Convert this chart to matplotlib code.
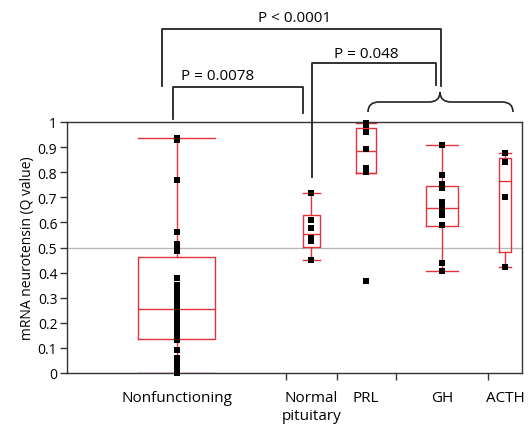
import numpy as np
import matplotlib
matplotlib.use("Agg")
import matplotlib.pyplot as plt
from matplotlib.path import Path
from matplotlib.patches import PathPatch

plt.rcParams['font.family'] = ['Open Sans', 'DejaVu Sans']

# ---------------- data ----------------
categories = ["Nonfunctioning", "Normal\npituitary", "PRL", "GH", "ACTH"]
group_n = [26, 6, 7, 11, 4]

pts_nonfunc = [0.935, 0.93, 0.77, 0.56, 0.515, 0.50, 0.485, 0.38, 0.35, 0.33,
               0.31, 0.29, 0.27, 0.25, 0.23, 0.21, 0.19, 0.17, 0.15, 0.13,
               0.09, 0.06, 0.04, 0.02, 0.0, 0.0]
pts_normal = [0.716, 0.61, 0.578, 0.537, 0.527, 0.45]
pts_prl = [0.996, 0.988, 0.96, 0.891, 0.815, 0.80, 0.365]
pts_gh = [0.908, 0.789, 0.752, 0.736, 0.682, 0.665, 0.65, 0.63, 0.591, 0.437, 0.405]
pts_acth = [0.875, 0.839, 0.70, 0.424]
points = [pts_nonfunc, pts_normal, pts_prl, pts_gh, pts_acth]

# box stats: whislo, q1, median, q3, whishi
box_whislo = [0.0, 0.45, 0.798, 0.405, 0.424]
box_q1 = [0.134, 0.502, 0.798, 0.586, 0.481]
box_med = [0.254, 0.554, 0.884, 0.657, 0.764]
box_q3 = [0.463, 0.629, 0.976, 0.745, 0.855]
box_whishi = [0.936, 0.716, 0.996, 0.908, 0.875]

yticks = [0, 0.1, 0.2, 0.3, 0.4, 0.5, 0.6, 0.7, 0.8, 0.9, 1]
ytick_labels = ["0", "0.1", "0.2", "0.3", "0.4", "0.5", "0.6", "0.7", "0.8", "0.9", "1"]
ylabel = "mRNA neurotensin (Q value)"
p_labels = ["P < 0.0001", "P = 0.048", "P = 0.0078"]

# ---------------- figure ----------------
W, H = 528, 427
fig = plt.figure(figsize=(W / 100, H / 100), dpi=100)
ax = fig.add_axes([67 / W, 1 - 374 / H, (522 - 67) / W, (374 - 123) / H])

red = '#e5323a'
edges = np.concatenate([[0], np.cumsum(group_n)]).astype(float)
centers = (edges[:-1] + edges[1:]) / 2
widths = np.array(group_n) * 0.35

stats = []
for i in range(len(categories)):
    stats.append(dict(whislo=box_whislo[i], q1=box_q1[i], med=box_med[i],
                      q3=box_q3[i], whishi=box_whishi[i], fliers=[]))
ax.bxp(stats, positions=centers, widths=widths, capwidths=widths,
       showfliers=False, manage_ticks=False,
       boxprops=dict(color=red, lw=1.0), whiskerprops=dict(color=red, lw=1.0),
       capprops=dict(color=red, lw=1.0), medianprops=dict(color=red, lw=1.0),
       zorder=2)

for c, p in zip(centers, points):
    ax.plot(np.full(len(p), c), p, 's', color='black', ms=4.4, mec='black',
            mew=0, zorder=3, clip_on=False)

ax.axhline(0.5, color='#b8b8b8', lw=1.0, zorder=1)

ax.set_xlim(edges[0], edges[-1])
ax.set_ylim(0, 1)
ax.set_yticks(yticks)
ax.set_yticklabels(ytick_labels, fontsize=10)
ax.set_ylabel(ylabel, fontsize=10, labelpad=2)
ax.set_xticks(edges[1:-1])
ax.set_xticklabels([])
ax.set_xticks(centers, minor=True)
ax.set_xticklabels(categories, minor=True, fontsize=11, va='top', linespacing=1.3)
ax.tick_params(axis='x', which='major', length=5, width=1, color='#333333')
ax.tick_params(axis='x', which='minor', length=0, pad=12)
ax.tick_params(axis='y', length=5, width=1, color='#333333', pad=2)
for s in ax.spines.values():
    s.set_color('#333333')
    s.set_linewidth(1.0)

# ---------------- annotations (in figure pixel coords) ----------------
def fx(x):
    return x / W

def fy(y):
    return 1 - y / H

def bracket(x0, x1, ytop, yl, yr, lw=1.3):
    fig.add_artist(plt.Line2D([fx(x0), fx(x0), fx(x1), fx(x1)],
                              [fy(yl), fy(ytop), fy(ytop), fy(yr)],
                              color='#222222', lw=lw, transform=fig.transFigure))

bracket(162, 441, 30, 87, 87)
fig.text(fx(295), fy(19), p_labels[0], fontsize=11, ha='center', va='center')
bracket(312, 436, 64, 178, 86)
fig.text(fx(366), fy(54), p_labels[1], fontsize=11, ha='center', va='center')
bracket(173, 303, 88, 120, 114)
fig.text(fx(218), fy(77), p_labels[2], fontsize=11, ha='center', va='center')

# curly brace
bx0, bx1, bc, yt, ym, yb = 368, 513, 440, 93, 103, 113
r = 11
verts = [(bx0, yb), (bx0, ym), (bx0 + r, ym), (bc - r, ym), (bc, ym), (bc, yt),
         (bc, ym), (bc + r, ym), (bx1 - r, ym), (bx1, ym), (bx1, yb)]
codes = [Path.MOVETO, Path.CURVE3, Path.CURVE3, Path.LINETO, Path.CURVE3, Path.CURVE3,
         Path.CURVE3, Path.CURVE3, Path.LINETO, Path.CURVE3, Path.CURVE3]
verts = [(fx(x), fy(y)) for x, y in verts]
fig.add_artist(PathPatch(Path(verts, codes), fill=False, ec='#222222', lw=1.2,
                         transform=fig.transFigure))

fig.savefig("out.png", dpi=100)
